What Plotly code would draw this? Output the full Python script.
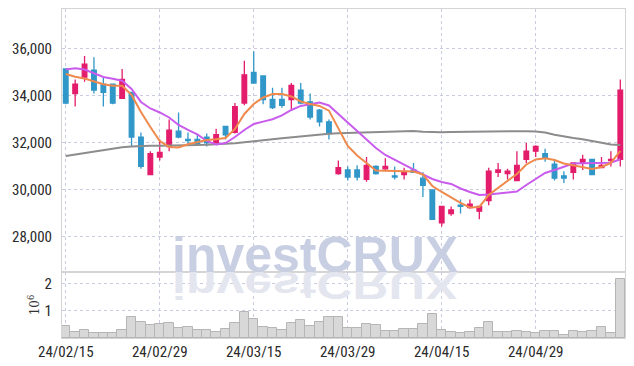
import plotly.graph_objects as go

# ---------------- data ----------------
dates = [
    "24/02/15", "24/02/16", "24/02/19", "24/02/20", "24/02/21", "24/02/22", "24/02/23", "24/02/26", "24/02/27", "24/02/28",
    "24/02/29", "24/03/04", "24/03/05", "24/03/06", "24/03/07", "24/03/08", "24/03/11", "24/03/12", "24/03/13", "24/03/14",
    "24/03/15", "24/03/18", "24/03/19", "24/03/20", "24/03/21", "24/03/22", "24/03/25", "24/03/26", "24/03/27", "24/03/28",
    "24/03/29", "24/04/01", "24/04/02", "24/04/03", "24/04/04", "24/04/05", "24/04/08", "24/04/09", "24/04/11", "24/04/12",
    "24/04/15", "24/04/16", "24/04/17", "24/04/18", "24/04/19", "24/04/22", "24/04/23", "24/04/24", "24/04/25", "24/04/26",
    "24/04/29", "24/04/30", "24/05/02", "24/05/03", "24/05/07", "24/05/08", "24/05/09", "24/05/10", "24/05/13", "24/05/14",
]
tick_labels = ["24/02/15", "24/02/29", "24/03/15", "24/03/29", "24/04/15", "24/04/29"]

open_ = [35150, 34100, 34800, 35100, 34500, 34500, 33900, 34150, 32250, 30650,
         31400, 31850, 32500, 32150, 32150, 32250, 32000, 32700, 32450, 33700,
         35000, 34850, 33850, 33850, 33850, 34250, 33750, 33400, 32900, 30700,
         30850, 30850, 30450, 31000, 30900, 30600, 30650, 30850, 30500, 30000,
         28600, 29000, 29350, 29250, 29100, 29550, 30750, 30700, 30400, 31300,
         31650, 31550, 31100, 30600, 30750, 31150, 31300, 30950, 31250, 31300]
high = [35150, 34700, 35700, 35650, 34800, 34500, 35150, 34150, 32450, 31650,
        32150, 33000, 33300, 32450, 32350, 32400, 32600, 32700, 33700, 35500,
        35900, 34850, 34350, 34350, 34550, 34550, 34100, 33450, 33000, 31250,
        31000, 31050, 31400, 31050, 31350, 31000, 30950, 31150, 30750, 30000,
        29300, 29300, 29600, 29600, 29300, 30950, 31150, 30900, 31650, 32000,
        31900, 31750, 31300, 30800, 31150, 31500, 31300, 31400, 31650, 34700]
low = [33650, 33550, 34600, 34100, 33550, 33650, 33900, 31850, 30900, 30650,
       31250, 31650, 32200, 31900, 31950, 31850, 31950, 32150, 32400, 33600,
       34550, 33650, 33450, 33500, 33450, 33650, 33000, 32700, 32150, 30650,
       30400, 30400, 30350, 30650, 30800, 30450, 30450, 30750, 29700, 28750,
       28450, 28900, 29000, 29200, 28750, 29350, 30550, 30450, 30400, 31150,
       31400, 31200, 30400, 30300, 30450, 30850, 30650, 30950, 31000, 31000]
close = [33700, 34500, 35350, 34250, 34150, 33700, 34700, 32250, 31000, 31550,
         31600, 32550, 32250, 32100, 31950, 32000, 32350, 32350, 33550, 34900,
         34550, 33850, 33500, 33600, 34450, 33700, 33100, 32900, 32400, 30950,
         30550, 30550, 31050, 30700, 31000, 30550, 30750, 30750, 30200, 28750,
         29300, 29150, 29300, 29400, 29300, 30800, 30850, 30800, 31050, 31650,
         31850, 31350, 30500, 30500, 31150, 31300, 30650, 31050, 31300, 34250]

ma_short = [34936, 34821, 34745, 34609, 34498, 34438, 34438, 34043, 33319, 32681,
            32085, 31830, 31809, 31945, 32030, 32128, 32158, 32213, 32596, 33234,
            33660, 33936, 34085, 34085, 33979, 33766, 33660, 33575, 33375, 32640,
            31873, 31468, 31150, 30830, 30822, 30809, 30809, 30787, 30660, 30170,
            29915, 29681, 29447, 29256, 29277, 29788, 30085, 30383, 30681, 31085,
            31298, 31350, 31277, 31128, 31043, 30979, 30894, 30979, 31149, 31660]
ma_mid = [35128, 35179, 35128, 34979, 34809, 34736, 34651, 34298, 33745, 33468,
          33298, 33085, 32766, 32553, 32362, 32085, 31936, 32000, 32255, 32553,
          32809, 32907, 33009, 33170, 33404, 33575, 33660, 33717, 33596, 33213,
          32872, 32511, 32149, 31787, 31490, 31277, 31064, 30873, 30660, 30468,
          30341, 30256, 30064, 29915, 29788, 29809, 29843, 29873, 29937, 30213,
          30468, 30724, 30851, 30979, 31128, 31136, 31136, 31149, 31162, 31307]
ma_long = [31447, 31511, 31575, 31639, 31703, 31758, 31817, 31851, 31877, 31881,
           31885, 31885, 31890, 31898, 31911, 31924, 31936, 31958, 31992, 32034,
           32085, 32119, 32162, 32200, 32243, 32290, 32332, 32366, 32392, 32413,
           32426, 32443, 32455, 32468, 32481, 32489, 32502, 32511, 32477, 32455,
           32460, 32468, 32472, 32477, 32481, 32489, 32498, 32506, 32511, 32502,
           32485, 32443, 32353, 32277, 32213, 32158, 32085, 32009, 31936, 31915]

volume_m = [0.45, 0.24, 0.30, 0.19, 0.19, 0.19, 0.30, 0.77, 0.60, 0.49,
            0.53, 0.56, 0.38, 0.41, 0.30, 0.30, 0.23, 0.34, 0.56, 0.97,
            0.71, 0.41, 0.38, 0.30, 0.56, 0.67, 0.45, 0.60, 0.77, 0.77,
            0.38, 0.38, 0.53, 0.49, 0.27, 0.27, 0.34, 0.34, 0.53, 0.90,
            0.30, 0.23, 0.19, 0.23, 0.38, 0.60, 0.23, 0.23, 0.27, 0.23,
            0.19, 0.27, 0.27, 0.12, 0.27, 0.23, 0.27, 0.41, 0.19, 2.19]

price_ticks = [28000, 30000, 32000, 34000, 36000]
volume_ticks = [1, 2]

# ---------------- style ----------------
UP = "#e31c6b"
DOWN = "#3197c9"
GRID = "#c9cce0"
FRAME = "#d4d4d4"
TICK_FONT = dict(family="Liberation Sans Narrow, Roboto Condensed, Arial Narrow, Roboto, sans-serif",
                 size=15, color="#2a2a2a")

W, H = 634, 366
M_L, M_R, M_T, M_B = 62, 9, 9, 28
plot_h = H - M_T - M_B
split = 66 / plot_h

fig = go.Figure()

fig.add_trace(go.Bar(
    x=dates, y=volume_m, xaxis="x", yaxis="y2",
    marker=dict(color="#d8d8d8", line=dict(color="#b5b5b5", width=1)),
    hoverinfo="skip", showlegend=False,
))

fig.add_trace(go.Candlestick(
    x=dates, open=open_, high=high, low=low, close=close,
    xaxis="x", yaxis="y",
    increasing=dict(line=dict(color=UP, width=1.3), fillcolor=UP),
    decreasing=dict(line=dict(color=DOWN, width=1.3), fillcolor=DOWN),
    whiskerwidth=0, hoverinfo="skip", showlegend=False,
))

for vals, col in [(ma_long, "#8c8c8c"), (ma_mid, "#c95ced"), (ma_short, "#ef8a4c")]:
    fig.add_trace(go.Scatter(
        x=dates, y=vals, mode="lines", xaxis="x", yaxis="y",
        line=dict(color=col, width=2), hoverinfo="skip", showlegend=False,
    ))

wm_font = dict(family="Liberation Sans, Arial, sans-serif", size=50, weight="bold")
wm_x = (315 - M_L) / (W - M_L - M_R)
wm_y = (H - M_B - 255) / plot_h

fig.update_layout(
    width=W, height=H,
    margin=dict(l=M_L, r=M_R, t=M_T, b=M_B),
    paper_bgcolor="white", plot_bgcolor="white",
    showlegend=False, bargap=0.0, boxgap=0.3,
    xaxis=dict(
        type="category", range=[-0.4, 59.5], anchor="y2",
        tickmode="array", tickvals=tick_labels, ticktext=tick_labels,
        showgrid=True, gridcolor=GRID, griddash="dot", gridwidth=1,
        showline=True, linecolor=FRAME, linewidth=1, mirror="all",
        ticks="", tickfont=TICK_FONT, rangeslider=dict(visible=False),
        automargin=False, zeroline=False,
    ),
    yaxis=dict(
        domain=[split, 1], anchor="x", range=[26510, 37700],
        tickmode="array", tickvals=price_ticks, tickformat=",d",
        showgrid=True, gridcolor=GRID, griddash="dot", gridwidth=1,
        showline=True, linecolor=FRAME, linewidth=1, mirror="all",
        ticks="", ticklabelstandoff=6, tickfont=TICK_FONT,
        automargin=False, zeroline=False,
    ),
    yaxis2=dict(
        domain=[0, split], anchor="x", range=[0, 2.44],
        tickmode="array", tickvals=volume_ticks,
        showgrid=True, gridcolor=GRID, griddash="dot", gridwidth=1,
        showline=True, linecolor=FRAME, linewidth=1, mirror="all",
        ticks="", ticklabelstandoff=6, tickfont=TICK_FONT,
        title=dict(text="10<sup>6</sup>", standoff=2,
                   font=dict(family="DejaVu Serif, serif", size=12, color="#333")),
        automargin=False, zeroline=False,
    ),
    annotations=[
        dict(text="investCRUX", xref="paper", yref="paper", x=wm_x, y=wm_y,
             xanchor="center", yanchor="middle", showarrow=False,
             font=dict(color="#c9cfe3", **wm_font)),
        dict(text="investCRUX", xref="paper", yref="paper", x=wm_x, y=wm_y,
             xanchor="center", yanchor="middle", showarrow=False,
             font=dict(color="#e4e6ef", **wm_font)),
    ],
)

post_js = """
document.body.style.margin = '0';
document.body.style.padding = '0';
document.body.style.overflow = 'hidden';
var gd = document.getElementById('{plot_id}');
var anns = gd.querySelectorAll('g.annotation');
if (anns.length > 1) {
  var el = anns[1];
  var s = 0.78;
  var wrap = document.createElementNS('http://www.w3.org/2000/svg', 'g');
  el.parentNode.insertBefore(wrap, el);
  wrap.appendChild(el);
  var yb = NaN;
  try {
    var t = el.querySelector('text');
    var svg = t.ownerSVGElement;
    var p = svg.createSVGPoint();
    p.x = 0; p.y = parseFloat(t.getAttribute('y'));
    var q = p.matrixTransform(t.getCTM());
    var r = q.matrixTransform(wrap.getCTM().inverse());
    yb = r.y;
  } catch (e) {}
  if (!isFinite(yb)) { var bb = wrap.getBBox(); yb = bb.y + bb.height * 0.8; }
  wrap.setAttribute('transform', 'translate(0,' + (yb * (1 + s)) + ') scale(1,' + (-s) + ')');
}
"""

fig.write_html("out.html", post_script=post_js, config={"displayModeBar": False})
